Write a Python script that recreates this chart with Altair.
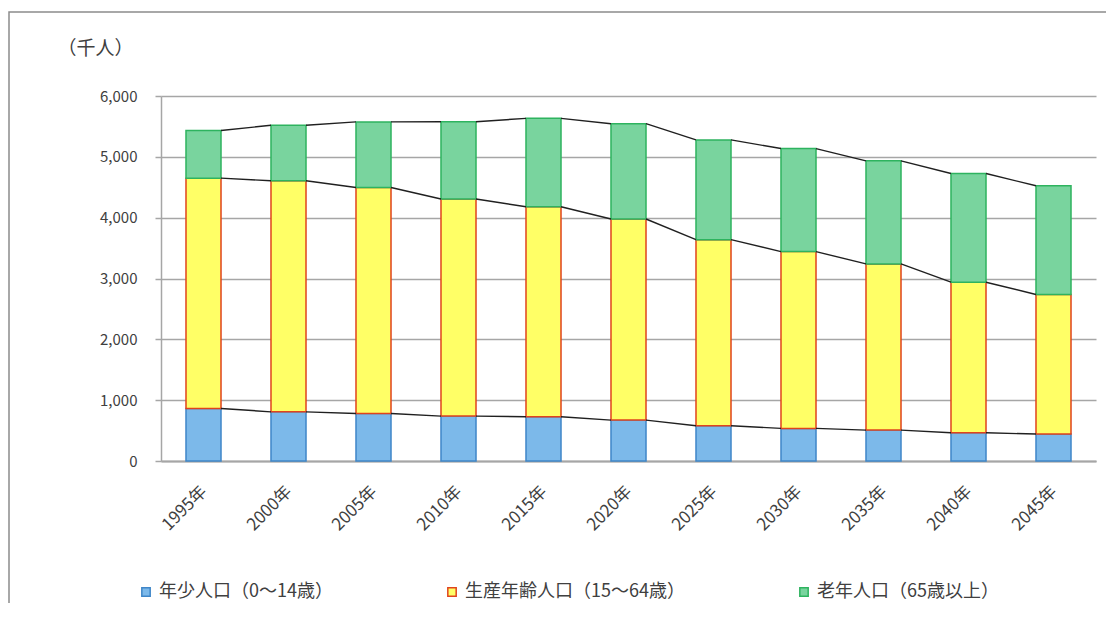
import altair as alt
import pandas as pd

years = ["1995年", "2000年", "2005年", "2010年", "2015年", "2020年",
         "2025年", "2030年", "2035年", "2040年", "2045年"]
youth = [864, 808, 781, 738, 727, 672, 579, 536, 508, 464, 443]
productive = [3786, 3798, 3715, 3568, 3453, 3306, 3060, 2906, 2732, 2475, 2294]
elderly = [782, 913, 1078, 1270, 1453, 1567, 1639, 1694, 1694, 1787, 1787]
series = ["年少人口（0～14歳）", "生産年齢人口（15～64歳）", "老年人口（65歳以上）"]
fill_colors = ["#7cb9ea", "#ffff66", "#79d49e"]
stroke_colors = ["#3f86c8", "#e0441c", "#2eb35f"]
y_ticks = [0, 1000, 2000, 3000, 4000, 5000, 6000]

FONT = "Noto Sans CJK JP"

rows = []
for i, yr in enumerate(years):
    for k, vals in enumerate([youth, productive, elderly]):
        rows.append({"year": yr, "series": series[k], "value": vals[i], "order": k})
df = pd.DataFrame(rows)

cum1 = list(youth)
cum2 = [a + b for a, b in zip(youth, productive)]
cum3 = [a + b + c for a, b, c in zip(youth, productive, elderly)]
lines = []
for cum in (cum1, cum2, cum3):
    for i in range(len(years) - 1):
        lines.append({"year": years[i], "next": years[i + 1], "v": cum[i], "v2": cum[i + 1]})
ldf = pd.DataFrame(lines)

xscale = alt.Scale(domain=years, paddingInner=0.588, paddingOuter=0.294)
yscale = alt.Scale(domain=[0, 6000])

x_axis = alt.Axis(title=None, ticks=False, labelAngle=-45, labelFontSize=17,
                  labelColor="#404040", labelPadding=22, labelOffset=-5,
                  domainColor="#a6a6a6", domainWidth=2, grid=False, labelFont=FONT)
y_axis = alt.Axis(values=y_ticks, format=",.0f", formatType="number",
                  title="（千人）", titleAngle=0,
                  titleAlign="left", titleBaseline="middle", titleX=-104, titleY=-48,
                  titleFontSize=19, titleFontWeight="normal", titleColor="#404040",
                  titleFont=FONT, labelFont=FONT,
                  labelFontSize=15, labelColor="#404040", labelPadding=18,
                  tickSize=6, tickColor="#a6a6a6", tickWidth=1.5,
                  domainColor="#a6a6a6", domainWidth=1.5,
                  grid=True, gridColor="#a6a6a6", gridWidth=1.5)

leg = alt.Legend(title=None, orient="none", legendX=-24, legendY=487,
                 direction="horizontal", columns=3, symbolType="square",
                 symbolSize=70, symbolStrokeWidth=1.5, labelFontSize=18,
                 labelColor="#404040", labelFont=FONT, columnPadding=110,
                 labelOffset=4, labelLimit=400)

bars = alt.Chart(df).mark_bar(strokeWidth=1.5).encode(
    x=alt.X("year:N", scale=xscale, axis=x_axis, sort=years),
    y=alt.Y("value:Q", stack="zero", scale=yscale, axis=y_axis),
    fill=alt.Fill("series:N", scale=alt.Scale(domain=series, range=fill_colors), legend=leg),
    stroke=alt.Stroke("series:N", scale=alt.Scale(domain=series, range=stroke_colors), legend=leg),
    order=alt.Order("order:Q"),
)

rules = alt.Chart(ldf).mark_rule(color="#202020", strokeWidth=1.4,
                                 xOffset=17.5, x2Offset=-17.5).encode(
    x=alt.X("year:N", scale=xscale, axis=x_axis, sort=years),
    x2="next:N",
    y=alt.Y("v:Q", scale=yscale, axis=y_axis),
    y2="v2:Q",
)

border = alt.Chart(alt.Data(values=[{"a": 1}])).mark_rect(
    filled=False, stroke="#8c8c8c", strokeWidth=1.5).encode(
    x=alt.value(-152), y=alt.value(-84), x2=alt.value(1500), y2=alt.value(1500))

chart = alt.layer(border, bars, rules).properties(
    width=935, height=365,
    autosize=alt.AutoSizeParams(type="none"),
    padding={"left": 153, "top": 88, "right": 10, "bottom": 142},
).configure(font=FONT).configure_view(strokeWidth=0)

chart.save("out.html", embed_options={"renderer": "svg", "actions": False})
